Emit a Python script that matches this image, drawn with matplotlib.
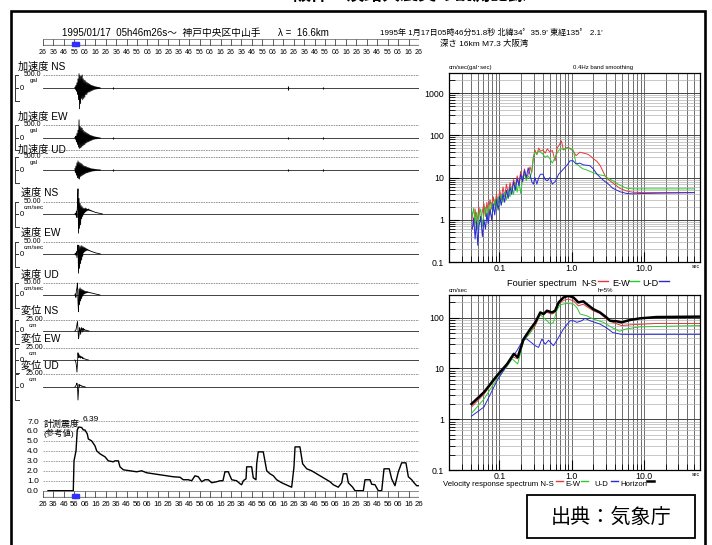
import numpy as np
import matplotlib
matplotlib.use("Agg")
import matplotlib.pyplot as plt
from matplotlib.patches import Rectangle
from matplotlib.ticker import FixedLocator, LogLocator, NullFormatter

plt.rcParams['font.family'] = ['Liberation Sans', 'Noto Sans CJK JP', 'DejaVu Sans']

# ------------------------------------------------------------------
# waveform records (normalised to the full-scale value of each row)
# samples start T0 seconds after 05:46:26, spaced DT seconds
# ------------------------------------------------------------------
T0, DT = 30.5, 0.5

ACC_NS = [0.05, -0.1, 0.2, -0.25, 0.4, -0.5, 0.7, -0.9, 1.1, -1.6, 0.95, -1.2, 0.9, -0.8, 1.0, -0.9,
          0.7, -0.8, 0.6, -0.7, 0.55, -0.5, 0.45, -0.5, 0.4, -0.35, 0.35, -0.3, 0.3, -0.3, 0.25, -0.22,
          0.2, -0.2, 0.18, -0.15, 0.15, -0.12, 0.12, -0.1, 0.1, -0.08, 0.08, -0.07, 0.06, -0.05, 0.05,
          -0.04, 0.03, -0.02]
ACC_EW = [0.05, -0.1, 0.15, -0.3, 0.35, -0.5, 0.6, -0.7, 1.4, -0.8, 0.9, -0.75, 0.8, -0.7, 0.75, -0.6,
          0.6, -0.55, 0.5, -0.5, 0.45, -0.4, 0.4, -0.35, 0.35, -0.3, 0.3, -0.28, 0.25, -0.22, 0.2, -0.2,
          0.18, -0.15, 0.15, -0.12, 0.12, -0.1, 0.1, -0.08, 0.08, -0.07, 0.06, -0.05, 0.05, -0.04, 0.03,
          -0.03, 0.02, -0.02]
ACC_UD = [0.1, -0.2, 0.3, -0.4, 0.55, -0.6, 0.7, -0.65, 0.6, -0.7, 0.55, -0.5, 0.5, -0.45, 0.45, -0.4,
          0.35, -0.35, 0.3, -0.3, 0.28, -0.25, 0.25, -0.22, 0.2, -0.2, 0.18, -0.16, 0.15, -0.14, 0.12,
          -0.12, 0.1, -0.1, 0.09, -0.08, 0.08, -0.07, 0.06, -0.05, 0.05, -0.04, 0.04, -0.03, 0.03, -0.03,
          0.02, -0.02, 0.02, -0.01]
VEL_NS = [0.0, 0.05, -0.1, 0.25, -0.3, 0.8, 2.1, -1.6, 1.3, -1.2, 0.9, -0.9, 0.7, -0.4, 0.6, -0.2,
          0.5, 0.0, 0.45, 0.1, 0.5, 0.2, 0.45, 0.25, 0.4, 0.3, 0.42, 0.3, 0.35, 0.28, 0.32, 0.25, 0.28,
          0.22, 0.24, 0.2, 0.2, 0.17, 0.16, 0.14, 0.13, 0.12, 0.11, 0.1, 0.09, 0.08, 0.07, 0.06, 0.05,
          0.04, 0.03, 0.02, 0.01, 0.0]
VEL_EW = [0.0, 0.05, -0.1, 0.2, -0.3, 0.5, 0.75, -1.6, 0.7, -1.2, 0.6, -0.8, 0.7, -0.5, 0.65, -0.2,
          0.6, 0.1, 0.55, 0.2, 0.5, 0.25, 0.45, 0.3, 0.4, 0.3, 0.35, 0.28, 0.3, 0.25, 0.26, 0.22, 0.22,
          0.19, 0.18, 0.16, 0.15, 0.13, 0.12, 0.1, 0.09, 0.08, 0.07, 0.06, 0.05, 0.04, 0.03, 0.02,
          0.01, 0.0]
VEL_UD = [0.0, 0.1, -0.2, 0.4, 0.6, 1.0, -0.6, -1.4, 0.5, -0.8, 0.6, -0.5, 0.5, -0.3, 0.45, -0.1,
          0.4, 0.05, 0.35, 0.1, 0.3, 0.15, 0.3, 0.18, 0.28, 0.2, 0.25, 0.2, 0.22, 0.18, 0.2, 0.17,
          0.17, 0.15, 0.15, 0.13, 0.12, 0.11, 0.1, 0.09, 0.08, 0.07, 0.06, 0.05, 0.04, 0.03, 0.02,
          0.01, 0.0]
DISP_NS = [0.0, 0.05, 0.1, 0.3, 0.6, 0.85, 0.2, -0.7, -0.4, 0.3, 0.1, -0.3, 0.25, 0.3, -0.1, 0.2,
           0.25, 0.0, 0.15, 0.12, 0.05, 0.08, 0.06, 0.03, 0.04, 0.02, 0.01, 0.0]
DISP_EW = [0.0, -0.05, -0.2, -0.5, -1.0, -0.3, 0.6, 0.2, 0.45, 0.2, 0.35, 0.15, 0.3, 0.2, 0.25,
           0.12, 0.18, 0.1, 0.12, 0.08, 0.08, 0.05, 0.05, 0.03, 0.02, 0.01, 0.0]
DISP_UD = [0.0, 0.05, 0.1, 0.2, 0.3, 0.1, -1.0, -0.3, 0.2, 0.05, 0.15, 0.1, 0.12, 0.05, 0.08, 0.04,
           0.05, 0.02, 0.03, 0.01, 0.0]

# short aftershock pulses on the acceleration rows
BLIP_T = [67, 235, 268]
ACC_BLIPS = [[0.1, 0.12, 0.1], [0.08, 0.1, 0.08], [0.08, 0.1, 0.08]]

ROW_NAMES = ["加速度 NS", "加速度 EW", "加速度 UD", "速度 NS", "速度 EW", "速度 UD",
             "変位 NS", "変位 EW", "変位 UD"]
FULL_SCALE = ["500.0"] * 3 + ["50.00"] * 3 + ["25.00"] * 3
UNITS = ["gal"] * 3 + ["cm/sec"] * 3 + ["cm"] * 3
WAVES = [ACC_NS, ACC_EW, ACC_UD, VEL_NS, VEL_EW, VEL_UD, DISP_NS, DISP_EW, DISP_UD]

# measured seismic intensity (running value)
INT_T = [4.8, 29.0, 29.7, 31.6, 32.8, 34.2, 37.0, 38.6, 40.2, 42.4, 43.4, 46.6, 49.8, 51.4, 54.6,
         59.4, 62.5, 67.3, 68.9, 72.1, 73.7, 76.9, 83.3, 89.7, 94.5, 99.3, 105.6, 112.0, 118.4,
         124.7, 131.2, 134.3, 139.1, 142.4, 145.5, 148.7, 151.9, 155.1, 158.3, 161.5, 166.3, 169.5,
         172.3, 174.2, 177.4, 179.0, 180.7, 185.4, 188.6, 190.2, 191.8, 194.4, 195.0, 199.8, 201.3,
         203.9, 204.6, 206.1, 210.9, 214.2, 217.3, 220.5, 223.7, 228.5, 234.8, 238.1, 240.3, 241.3,
         246.0, 248.6, 252.5, 257.2, 262.0, 268.4, 274.8, 277.9, 282.7, 286.0, 287.5, 290.8, 292.3,
         296.5, 298.7, 306.7, 308.3, 313.1, 314.7, 317.9, 321.0, 324.3, 326.5, 331.5, 333.8, 337.0,
         340.2, 343.4, 347.5, 349.8, 353.0, 355.2, 357.8, 359.3]
INT_V = [0.0, 0.0, 3.0, 4.0, 6.1, 6.39, 6.35, 6.1, 6.1, 5.7, 5.2, 5.0, 4.5, 4.0, 3.7,
         3.4, 3.0, 2.9, 3.0, 3.0, 2.4, 2.1, 2.0, 1.9, 2.0, 1.8, 1.7, 1.6, 1.5,
         1.4, 1.35, 1.1, 1.1, 1.0, 1.5, 1.4, 0.9, 1.1, 1.1, 0.8, 0.9, 1.0,
         1.0, 1.9, 1.9, 1.5, 1.1, 1.0, 0.7, 0.6, 1.0, 1.2, 2.4, 2.4, 1.3,
         1.1, 2.7, 3.9, 3.9, 2.0, 1.7, 1.5, 1.1, 0.8, 0.5, 0.35, 2.4, 4.4,
         4.4, 2.7, 2.2, 2.0, 1.7, 1.3, 0.9, 0.6, 0.35, 0.8, 1.7, 1.7, 0.8,
         0.35, 0.0, 0.0, 1.1, 1.1, 0.65, 0.6, 0.0, 0.0, 2.2, 2.2, 1.2, 0.5,
         1.9, 2.8, 2.8, 1.4, 1.1, 0.8, 0.5, 0.5]
TRIGGER_T = 30

# Fourier spectrum, 0.4 Hz band smoothing
FS_PERIOD = [0.042, 0.044, 0.046, 0.048, 0.050, 0.052, 0.055, 0.058, 0.061, 0.064, 0.067, 0.070,
             0.074, 0.078, 0.082, 0.086, 0.091, 0.096, 0.101, 0.106, 0.112, 0.118, 0.125, 0.132,
             0.140, 0.148, 0.157, 0.166, 0.176, 0.186, 0.197, 0.210, 0.222, 0.235, 0.250, 0.265,
             0.280, 0.295, 0.31, 0.33, 0.35, 0.37, 0.40, 0.43, 0.46, 0.50, 0.54, 0.59, 0.63, 0.66,
             0.72, 0.77, 0.87, 0.95, 1.05, 1.15, 1.3, 1.45, 1.65, 1.8, 2.0, 2.25, 2.5, 2.9, 3.1,
             3.7, 4.7, 5.8, 7.0, 10.0, 20.0, 50.0]
FS_NS = [1.5, 0.7, 1.8, 0.8, 1.2, 2.0, 0.9, 1.6, 2.4, 1.2, 2.6, 1.5, 3.0, 1.8, 3.5, 2.2, 4.0, 2.5,
         5.0, 3.0, 6.0, 3.5, 7.0, 4.2, 7.5, 5.0, 9.0, 6.0, 11, 7.0, 14, 9.0, 16, 10, 12, 18, 13, 30,
         45, 35, 50, 42, 45, 38, 48, 40, 44, 25, 50, 56, 74, 45, 52, 48, 43, 33, 40, 38, 36, 33, 28,
         24, 19, 11, 9.5, 7.5, 5.5, 4.8, 4.5, 4.4, 4.4, 4.4]
FS_EW = [1.2, 1.9, 0.8, 1.5, 0.6, 1.3, 1.8, 0.7, 1.4, 2.0, 1.0, 2.2, 1.3, 2.6, 1.6, 3.0, 1.8, 3.5,
         2.2, 4.0, 2.6, 4.5, 3.0, 5.0, 3.5, 6.0, 4.0, 7.5, 4.5, 8.0, 4.2, 10, 12, 8.5, 11, 9.5, 14, 30,
         40, 36, 43, 40, 36, 30, 33, 28, 22, 30, 38, 44, 48, 46, 50, 50, 45, 22, 18, 16, 15, 14, 13,
         12, 11.5, 11, 10, 8.4, 6.5, 5.6, 5.4, 5.4, 5.4, 5.4]
FS_UD = [0.6, 1.1, 0.35, 0.9, 0.25, 0.7, 1.2, 0.4, 1.0, 0.6, 1.4, 0.8, 1.8, 1.0, 2.4, 1.3, 3.0, 1.7,
         3.6, 2.2, 4.2, 2.6, 5.0, 3.2, 6.0, 4.0, 8.0, 5.0, 9.5, 6.5, 12, 8.0, 15, 10, 17, 12, 8.0, 7.0,
         10, 7, 10, 12, 12, 9, 8.4, 10, 7, 8, 10, 12, 14, 16, 20, 25, 25, 21, 22, 20, 19.5, 19, 16,
         12, 10, 8, 7.5, 5.6, 4.6, 4.2, 4.1, 4.2, 4.3, 4.4]

# velocity response spectrum, h = 5%
VR_H_PERIOD = [0.041, 0.061, 0.093, 0.128, 0.158, 0.179, 0.216, 0.268, 0.314, 0.368, 0.408, 0.455,
               0.533, 0.59, 0.66, 0.77, 0.90, 1.06, 1.24, 1.45, 1.62, 1.99, 2.47, 3.05, 3.4, 4.2,
               4.9, 6.4, 8.8, 14.9, 59]
VR_H = [2.0, 3.4, 7.3, 12.3, 19.4, 16.6, 38, 60, 81, 127, 118, 137, 127, 137, 200, 250, 270, 250,
        200, 210, 185, 148, 127, 101, 87, 85, 81, 90, 97, 103, 105]
VR_NS_PERIOD = [0.041, 0.061, 0.093, 0.128, 0.150, 0.179, 0.216, 0.268, 0.314, 0.368, 0.455, 0.533,
                0.59, 0.66, 0.77, 0.90, 1.06, 1.24, 1.45, 1.62, 1.99, 2.47, 3.05, 3.7, 4.9, 7.1,
                14.9, 59]
VR_NS = [1.74, 3.1, 7.0, 12, 17, 15.5, 35, 51, 70, 118, 127, 118, 127, 186, 220, 232, 215, 171, 185,
         165, 137, 121, 94, 81, 70, 73, 77, 77]
VR_EW_PERIOD = [0.041, 0.061, 0.093, 0.128, 0.150, 0.179, 0.216, 0.268, 0.314, 0.368, 0.43, 0.505,
                0.56, 0.62, 0.69, 0.86, 1.06, 1.18, 1.31, 1.62, 1.99, 2.75, 3.7, 4.6, 5.7, 8.8, 59]
VR_EW = [1.3, 2.5, 6.3, 11, 15.5, 12.3, 35, 51, 78, 115, 94, 75, 81, 137, 180, 192, 186, 158, 118,
         109, 94, 81, 63, 54, 60, 66, 70]
VR_UD_PERIOD = [0.041, 0.061, 0.093, 0.128, 0.175, 0.216, 0.24, 0.314, 0.348, 0.387, 0.43, 0.48,
                0.56, 0.66, 0.77, 0.95, 1.06, 1.18, 1.38, 1.53, 1.8, 2.47, 3.05, 3.7, 4.9, 8.8, 59]
VR_UD = [1.15, 1.74, 5.8, 11.8, 22.6, 38, 38, 28, 26, 38, 30, 36, 28, 41, 60, 87, 87, 81, 87, 97, 87,
         75, 63, 51, 47, 47, 47]

RED, GREEN, BLUE = '#e03a3a', '#2fc82f', '#2a2ad6'

# ------------------------------------------------------------------
W, H = 712, 545
fig = plt.figure(figsize=(W / 100, H / 100), dpi=100)


def px_axes(x0, y0, x1, y1):
    # axes placed by pixel box (origin top-left)
    return fig.add_axes([x0 / W, 1 - y1 / H, (x1 - x0) / W, (y1 - y0) / H])


ov = px_axes(0, 0, W, H)
ov.set_xlim(0, W)
ov.set_ylim(H, 0)
ov.axis('off')
ov.set_zorder(10)

# outer frame and cut-off heading
ov.plot([11, 11, 705, 705], [H, 11, 11, H], color='black', lw=1.9, solid_joinstyle='miter')
ov.text(293, 4, "阪神・淡路大震災の観測記録", fontsize=13, fontweight='bold', va='bottom', ha='left')

# header
ov.text(62, 33, "1995/01/17  05h46m26s〜  神戸中央区中山手", fontsize=7, va='center')
ov.text(278, 33, "λ =  16.6km", fontsize=7, va='center')
ov.text(380, 33, "1995年 1月17日05時46分51.8秒 北緯34゜35.9' 東経135゜ 2.1'", fontsize=5.8, va='center')
ov.text(440, 44, "深さ 16km M7.3 大阪湾", fontsize=6, va='center')


def time_ruler(y0, y1, label_size):
    ax = px_axes(43, y0, 419, y1)
    ax.set_xlim(0, 360)
    ax.set_ylim(0, 1)
    ax.axis('off')
    ticks = np.arange(0, 361, 10)
    ax.axhline(1, color='#777', lw=0.6)
    ax.axhline(0, color='#888', lw=1.6)
    ax.vlines(ticks, 0, 1, color='#444', lw=0.6)
    for t in ticks:
        ax.text(t, -0.5, f"{(26 + t) % 60:02d}", fontsize=label_size, ha='center', va='top')
    ax.plot([TRIGGER_T, TRIGGER_T + 3], [0.25, 0.25], 's', color='#3030ff', ms=2.2, clip_on=False)
    return ax


time_ruler(39, 46, 5.0)

# waveform rows: label row, top dashed, zero line, bottom dashed (pixels)
ROWS = [(67, 75, 88, 101), (117, 125, 138, 150), (150, 157, 170, 183),
        (193, 202, 214, 227), (233, 242, 254, 267), (275, 283, 295, 308),
        (311, 320, 331, 344), (339, 348, 360, 373), (366, 374, 387, 400)]

for i, (name, fs, unit, wave, (ly, top, ctr, bot)) in enumerate(
        zip(ROW_NAMES, FULL_SCALE, UNITS, WAVES, ROWS)):
    h = ctr - top
    ax = px_axes(43, top, 419, ctr + h)
    ax.set_xlim(0, 360)
    ax.set_ylim(-1, 1)
    ax.axis('off')
    ax.axhline(1, color='#888', lw=0.6, ls=(0, (2, 1)))
    ax.axhline(-(bot - ctr) / h, color='#888', lw=0.6, ls=(0, (2, 1)))
    ax.axhline(0, color='#222', lw=0.6)
    t = T0 + DT * np.arange(len(wave))
    ax.plot(t, wave, color='black', lw=0.6, clip_on=False)
    if i < 3:
        amp = np.array(ACC_BLIPS[i])
        ax.vlines(BLIP_T, -amp, amp, color='black', lw=0.8)

    lx = 18 if i < 3 else 21
    ov.text(lx, ly - 0.5, name, fontsize=7.3, va='center')
    ov.plot([18, 15, 15, 19], [top, top, bot, bot], color='#333', lw=0.7)
    ov.plot([15, 18], [ctr, ctr], color='#333', lw=0.7)
    ov.text(24 if i < 6 else 26, top - 0.5, fs, fontsize=5, va='center')
    ux = {"gal": 30, "cm/sec": 24, "cm": 29}[unit]
    ov.text(ux, top + 5.5, unit, fontsize=4.6 if unit != "gal" else 4.3, va='center')
    ov.text(20, ctr, "0", fontsize=5.5, va='center')

# intensity panel
ai = px_axes(43, 421, 419, 490.7)
ai.set_xlim(0, 360)
ai.set_ylim(0, 7)
for s in ai.spines.values():
    s.set_visible(False)
ai.set_xticks([])
ai.set_yticks(np.arange(0, 8))
ai.set_yticklabels([f"{v:.1f}" for v in np.arange(0, 8)], fontsize=6)
ai.tick_params(axis='y', length=0, pad=3)
ai.grid(axis='y', color='#999', lw=0.6, ls=(0, (2, 1)))
ai.plot(INT_T, INT_V, color='black', lw=1.0, clip_on=False)
k = int(np.argmax(INT_V))
ai.annotate(f"{INT_V[k]:.2f}", (INT_T[k], INT_V[k]), xytext=(3, 3), textcoords='offset points',
            fontsize=6, ha='left', va='bottom')
ov.text(44, 424, "計測震度", fontsize=6.5, va='center')
ov.text(44, 433, "(参考値)", fontsize=6, va='center')

time_ruler(491, 498, 5.6)


def spec_axes(y0, y1, ylim, yticks, ylabels):
    ax = px_axes(449, y0, 700, y1)
    ax.set_xscale('log')
    ax.set_yscale('log')
    ax.set_xlim(0.02, 60)
    ax.set_ylim(*ylim)
    ax.xaxis.set_major_locator(FixedLocator([0.1, 1, 10]))
    ax.xaxis.set_minor_locator(LogLocator(base=10, subs=np.arange(2, 10)))
    ax.xaxis.set_minor_formatter(NullFormatter())
    ax.set_xticklabels(['0.1', '1.0', '10.0'])
    ax.yaxis.set_major_locator(FixedLocator(yticks))
    ax.yaxis.set_minor_locator(LogLocator(base=10, subs=np.arange(2, 10)))
    ax.yaxis.set_minor_formatter(NullFormatter())
    ax.set_yticklabels(ylabels)
    ax.tick_params(which='both', direction='in', top=False, right=False, labelsize=6.3, colors='black')
    ax.tick_params(axis='x', pad=1.5)
    ax.tick_params(which='major', length=7, width=0.8)
    ax.tick_params(which='minor', length=4, width=0.6)
    ax.xaxis.grid(True, which='both', color='#555', lw=0.6)
    ax.yaxis.grid(True, which='minor', color='#b0b0b0', lw=0.5)
    ax.yaxis.grid(True, which='major', color='#444', lw=0.7)
    ax.set_axisbelow(True)
    for s in ax.spines.values():
        s.set_linewidth(0.9)
    return ax


af = spec_axes(73, 262, (0.1, 3000), [0.1, 1, 10, 100, 1000], ['0.1', '1', '10', '100', '1000'])
af.plot(FS_PERIOD, FS_NS, color=RED, lw=0.7)
af.plot(FS_PERIOD, FS_EW, color=GREEN, lw=0.7)
af.plot(FS_PERIOD, FS_UD, color=BLUE, lw=0.7)
ov.text(449, 68, "cm/sec(gal･sec)", fontsize=4.3, va='center')
ov.text(603, 68, "0.4Hz band smoothing", fontsize=4.3, va='center', ha='center')
ov.text(700, 266, "sec", fontsize=3.8, va='center', ha='right')

# Fourier legend line
ov.text(507, 283, "Fourier spectrum", fontsize=6.6, va='center')
for x0, lab, col in [(581, "N-S", RED), (612, "E-W", GREEN), (642, "U-D", BLUE)]:
    ov.text(x0, 283, lab, fontsize=6.6, va='center')
    ov.plot([x0 + 17, x0 + 27], [281, 281], color=col, lw=1.0)

av = spec_axes(295, 470, (0.1, 280), [0.1, 1, 10, 100], ['0.1', '1', '10', '100'])
av.plot(VR_NS_PERIOD, VR_NS, color=RED, lw=0.7)
av.plot(VR_EW_PERIOD, VR_EW, color=GREEN, lw=0.7)
av.plot(VR_UD_PERIOD, VR_UD, color=BLUE, lw=0.7)
av.plot(VR_H_PERIOD, VR_H, color='black', lw=1.8)
ov.text(449, 290, "cm/sec", fontsize=4.3, va='center')
ov.text(598, 291, "h=5%", fontsize=4.3, va='center')
ov.text(700, 474, "sec", fontsize=3.8, va='center', ha='right')

# velocity response legend line
ov.text(443, 485, "Velocity response spectrum N-S", fontsize=5.6, va='center')
for x0, x1, col in [(556, 563, RED), (581, 588, GREEN), (611, 618, BLUE)]:
    ov.plot([x0, x1], [481, 481], color=col, lw=1.0)
ov.text(565, 485, "E-W", fontsize=5.6, va='center')
ov.text(594, 485, "U-D", fontsize=5.6, va='center')
ov.text(620, 485, "Horizon", fontsize=5.6, va='center')
ov.plot([647, 654], [481, 481], color='black', lw=1.8)

# source box
ov.add_patch(Rectangle((527, 495), 168, 43, fill=False, lw=1.3, edgecolor='black'))
ov.text(611, 517, "出典：気象庁", fontsize=14.5, ha='center', va='center',
        family=['Noto Sans CJK JP'])

fig.savefig("out.png", dpi=100)
